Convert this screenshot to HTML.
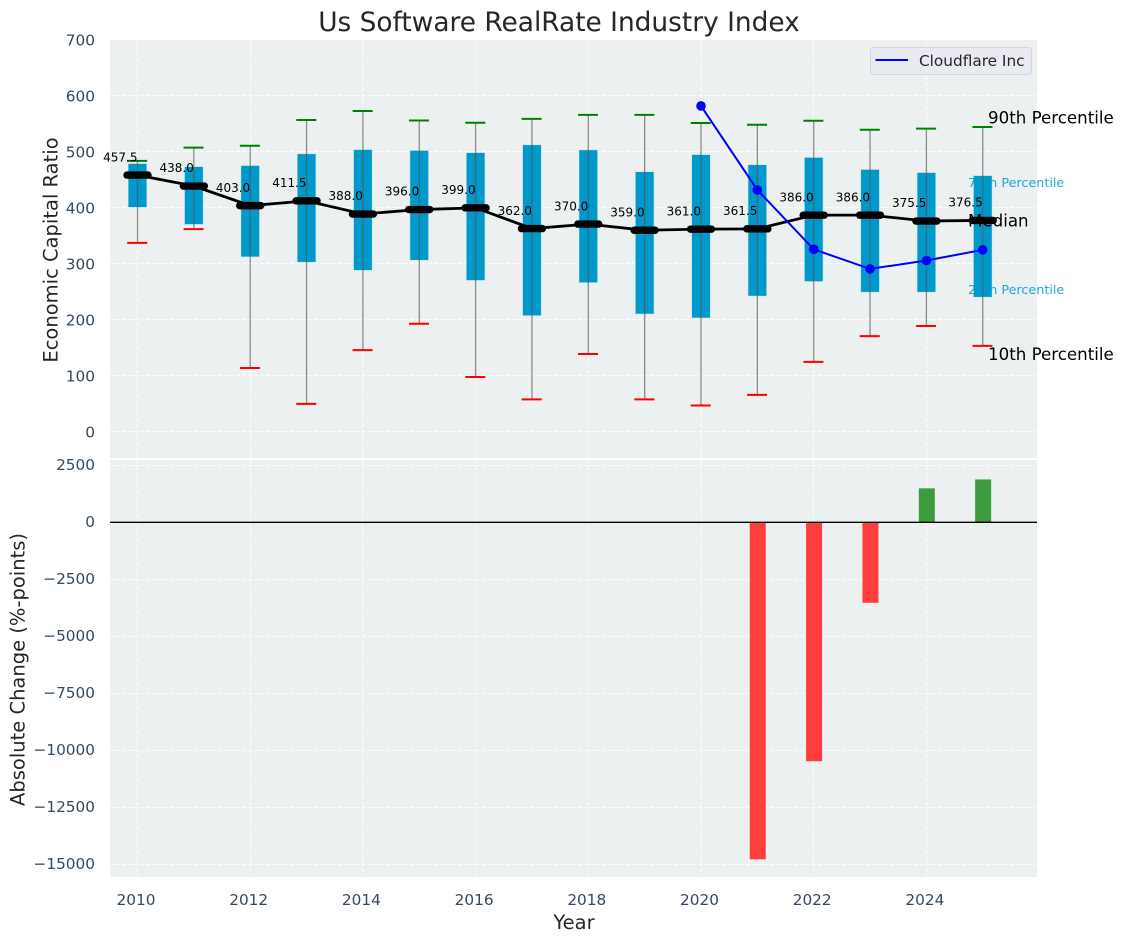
<!DOCTYPE html>
<html lang="en">
<head>
<meta charset="utf-8">
<title>Us Software RealRate Industry Index</title>
<style>
html,body{margin:0;padding:0;background:#fff;width:1123px;height:942px;overflow:hidden}
svg{display:block;font-family:"DejaVu Sans","Liberation Sans",sans-serif}
</style>
</head>
<body>
<svg id="chart" xmlns="http://www.w3.org/2000/svg" width="1123" height="942" viewBox="0 0 1123 942">
  <rect x="110" y="40" width="927" height="418" fill="#ecf0f1"/>
  <rect x="110" y="460" width="927" height="417" fill="#ecf0f1"/>
  <g id="grid"></g>
  <g id="under">
    <text x="968" y="187" font-size="12.75" fill="#0099cc" fill-opacity="0.85">75th Percentile</text>
    <text x="968" y="294" font-size="12.75" fill="#0099cc" fill-opacity="0.85">25th Percentile</text>
  </g>
  <g id="boxes"></g>
  <g id="bars"></g>
  <g id="lines"></g>
  <g id="ticks"></g>
  <g font-size="16.67" fill="#000">
    <text x="988" y="123.5">90th Percentile</text>
    <text x="968" y="226.5">Median</text>
    <text x="988" y="360">10th Percentile</text>
  </g>
  <g>
    <rect x="870.5" y="47.5" width="161" height="27" rx="3" fill="#eaeaf2" stroke="#d6d6dc" stroke-width="1"/>
    <line x1="875.5" x2="908" y1="60" y2="60" stroke="#0000ff" stroke-width="2"/>
    <text x="919" y="66" font-size="15.3" fill="#262626">Cloudflare Inc</text>
  </g>
  <text x="559" y="31" font-size="26.4" text-anchor="middle" fill="#262626">Us Software RealRate Industry Index</text>
  <text transform="translate(57.5,250) rotate(-90)" font-size="19.5" text-anchor="middle" fill="#262626">Economic Capital Ratio</text>
  <text transform="translate(24.5,669.5) rotate(-90)" font-size="19.5" text-anchor="middle" fill="#262626">Absolute Change (%-points)</text>
  <text x="574" y="929" font-size="19.5" text-anchor="middle" fill="#262626">Year</text>
</svg>
<script>
const years = [2010,2011,2012,2013,2014,2015,2016,2017,2018,2019,2020,2021,2022,2023,2024,2025];
const p90 = [483,506.5,510,556,572,555,551,558,565,565,550.5,547.5,554.5,538.5,540.5,543.5];
const p75 = [477.5,472,474,495,502.5,501,497,511,502,463,493.5,475.5,488.5,467,461.5,456];
const medians = [457.5,438,403,411.5,388,396,399,362,370,359,361,361.5,386,386,375.5,376.5];
const p25 = [400.5,370,312,302.5,288,306,270,207,266,210,203,242,268,249,249,240];
const p10 = [336.5,361,113,49,145,192,97,57,138,57,46,65,124,170,188,152.5];
const companyYears = [2020,2021,2022,2023,2024,2025];
const companyValues = [581,431,325,290,305,324];
const changeYears = [2021,2022,2023,2024,2025];
const changeValues = [-14780,-10480,-3530,1490,1880];
const xTicks = [2010,2012,2014,2016,2018,2020,2022,2024];
const topTicks = [0,100,200,300,400,500,600,700];
const bottomTicks = [2500,0,-2500,-5000,-7500,-10000,-12500,-15000];

const NS = 'http://www.w3.org/2000/svg';
const xScale = function (v) { return 137.5 + (v - 2010) * 56.35; };
const yTop = function (v) { return 431.3 - v * 0.56; };
const yBottom = function (v) { return 522.3 - v * 0.0228; };
const snap = function (p) { return Math.floor(p) + 0.5; };
const make = function (parent, tag, props) {
  const el = document.createElementNS(NS, tag);
  Object.keys(props).forEach(function (k) { el.setAttribute(k, props[k]); });
  document.getElementById(parent).appendChild(el);
  return el;
};

xTicks.forEach(function (t) {
  const a = make('grid', 'line', {x1: snap(xScale(t)), x2: snap(xScale(t)), y1: 40, y2: 458, stroke: '#fff', 'stroke-width': 1, 'stroke-dasharray': '4 2', 'stroke-opacity': 0.8});
  
  
  const b = make('grid', 'line', {x1: snap(xScale(t)), x2: snap(xScale(t)), y1: 460, y2: 877, stroke: '#fff', 'stroke-width': 1, 'stroke-dasharray': '4 2', 'stroke-opacity': 0.8});
  
  
  const label = make('ticks', 'text', {x: xScale(t) - 1.5, y: 905, 'font-size': 15.3, 'text-anchor': 'middle', fill: '#34495e'});
  label.textContent = t;
  
  
});

topTicks.forEach(function (t) {
  const g = make('grid', 'line', {x1: 110, x2: 1037, y1: snap(yTop(t)), y2: snap(yTop(t)), stroke: '#fff', 'stroke-width': 1, 'stroke-dasharray': '4 2', 'stroke-opacity': 0.8});
  
  
  const label = make('ticks', 'text', {x: 95, y: yTop(t) + 6.3, 'font-size': 15.3, 'text-anchor': 'end', fill: '#34495e'});
  label.textContent = t;
  
  
});

bottomTicks.forEach(function (t) {
  const g = make('grid', 'line', {x1: 110, x2: 1037, y1: snap(yBottom(t)), y2: snap(yBottom(t)), stroke: '#fff', 'stroke-width': 1, 'stroke-dasharray': '4 2', 'stroke-opacity': 0.8});
  
  
  const label = make('ticks', 'text', {x: 95, y: yBottom(t) + 4.7, 'font-size': 15.3, 'text-anchor': 'end', fill: '#34495e'});
  label.textContent = String(t).replace('-', '\u2212');
  
  
});

years.forEach(function (yr, i) {
  const cx = xScale(yr);
  const box = make('boxes', 'rect', {x: cx - 9, y: yTop(p75[i]), width: 18, height: yTop(p25[i]) - yTop(p75[i]), fill: '#0099cc', stroke: '#0099cc', 'stroke-opacity': 0.2, 'stroke-width': 1});
  
  
  const whisker = make('boxes', 'line', {x1: cx, x2: cx, y1: yTop(p90[i]), y2: yTop(p10[i]), stroke: '#555', 'stroke-opacity': 0.65, 'stroke-width': 1.3});
  
  
  const hi = make('boxes', 'line', {x1: cx - 10.3, x2: cx + 9.7, y1: yTop(p90[i]), y2: yTop(p90[i]), stroke: '#008000', 'stroke-width': 2});
  
  
  const lo = make('boxes', 'line', {x1: cx - 10.3, x2: cx + 9.7, y1: yTop(p10[i]), y2: yTop(p10[i]), stroke: '#ff0000', 'stroke-width': 2});
  
  
});

changeYears.forEach(function (yr, i) {
  const v = changeValues[i];
  const top = Math.min(yBottom(v), yBottom(0));
  const h = Math.abs(yBottom(v) - yBottom(0));
  const bar = make('bars', 'rect', {x: xScale(yr) - 7.6, y: top, width: 16, height: h, fill: v < 0 ? '#ff3d3d' : '#3d9c3d'});
  
  
});
const zero = make('bars', 'line', {x1: 110, x2: 1037, y1: yBottom(0), y2: yBottom(0), stroke: '#000', 'stroke-width': 1.3});



const medianPath = make('lines', 'polyline', {points: years.map(function (yr, i) { return xScale(yr) + ',' + yTop(medians[i]); }).join(' '), fill: 'none', stroke: '#000', 'stroke-width': 2.8});



years.forEach(function (yr, i) {
  const cx = xScale(yr);
  const cy = yTop(medians[i]);
  const cap = make('lines', 'line', {x1: cx - 10.5, x2: cx + 10.5, y1: cy, y2: cy, stroke: '#000', 'stroke-width': 7.4, 'stroke-linecap': 'round'});
  
  
  const label = make('lines', 'text', {x: cx, y: cy - 13.8, 'font-size': 12, 'text-anchor': 'end', fill: '#000'});
  label.textContent = medians[i].toFixed(1);
  
  
});

const companyPath = make('lines', 'polyline', {points: companyYears.map(function (yr, i) { return xScale(yr) + ',' + yTop(companyValues[i]); }).join(' '), fill: 'none', stroke: '#0000ff', 'stroke-width': 2});



companyYears.forEach(function (yr, i) {
  const dot = make('lines', 'circle', {cx: xScale(yr), cy: yTop(companyValues[i]), r: 4.8, fill: '#0000ff'});
  
  
});
</script>
</body>
</html>
